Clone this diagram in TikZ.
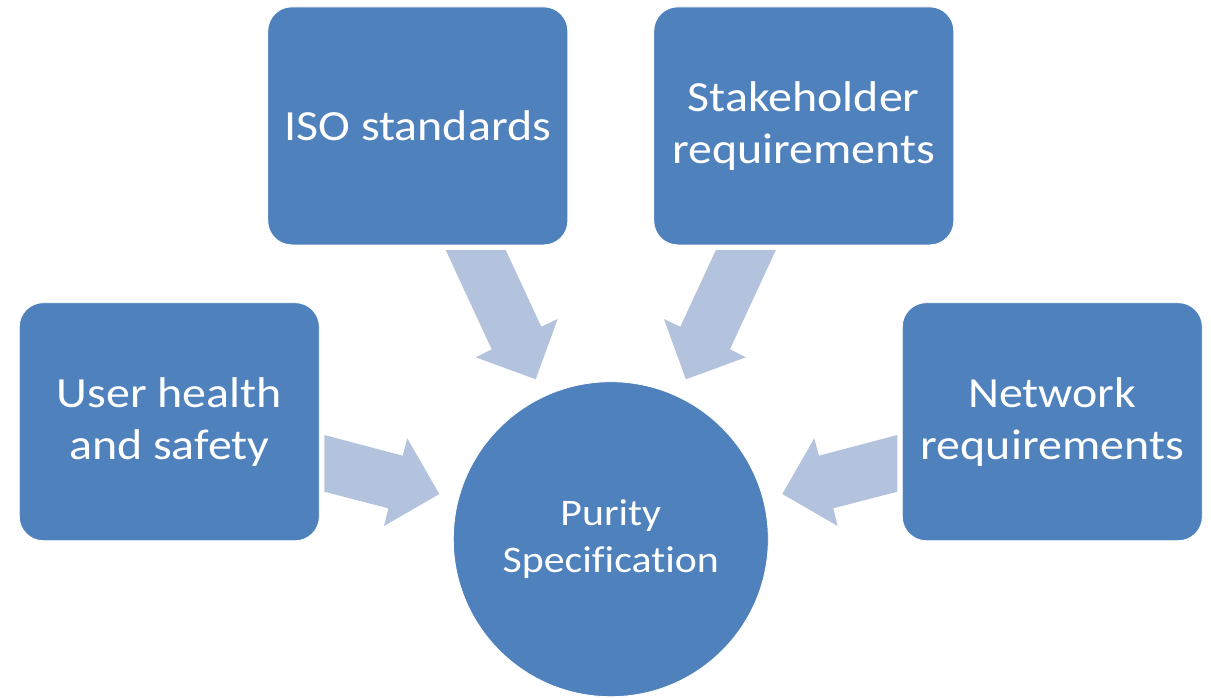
\documentclass[tikz,border=0pt]{standalone}
\usepackage{fontspec}
\setmainfont{Carlito}[FakeStretch=1.115, Ligatures=NoCommon]
\definecolor{boxblue}{HTML}{4F81BD}
\definecolor{arrowblue}{HTML}{B3C3DE}
\tikzset{
  boxnode/.style={rectangle, rounded corners=24pt, fill=boxblue, draw=white, line width=0.8pt,
    minimum width=300pt, minimum height=238pt, inner sep=0pt, text=white, align=center,
    font=\fontsize{43}{52}\selectfont},
  hubnode/.style={circle, fill=boxblue, draw=white, line width=0.8pt, minimum size=315pt,
    inner sep=0pt, text=white, align=center, font=\fontsize{37.5}{46.5}\selectfont},
  blockarrow/.style={fill=arrowblue, draw=none}
}
\begin{document}
\begin{tikzpicture}[x=1pt,y=-1pt]
\useasboundingbox (0,0) rectangle (1211,697);
% nodes
\node[boxnode] (user)  at (169.3,421.7) {User health\\and safety};
\node[boxnode] (iso)   at (417.8,125.9) {ISO standards};
\node[boxnode] (stake) at (803.8,125.9) {Stakeholder\\requirements};
\node[boxnode] (net)   at (1052.3,421.7) {Network\\requirements};
\node[hubnode] (hub)   at (610.8,539.2) {Purity\\Specification};
% block arrows
\fill[blockarrow] (324.3,435) -- (402.7,455.7) -- (407.3,438.3) -- (439.3,494)
  -- (384,526) -- (388.3,508.3) -- (324.3,491.7) -- cycle;
\fill[blockarrow] (445.7,250) -- (505.7,250) -- (541.3,326.7) -- (557.7,319)
  -- (535.7,379.3) -- (475.7,357.3) -- (491.7,349.3) -- cycle;
\fill[blockarrow] (775.9,250) -- (715.9,250) -- (680.3,326.7) -- (663.9,319)
  -- (685.9,379.3) -- (745.9,357.3) -- (729.9,349.3) -- cycle;
\fill[blockarrow] (897.3,435) -- (818.9,455.7) -- (814.3,438.3) -- (782.3,494)
  -- (837.6,526) -- (833.3,508.3) -- (897.3,491.7) -- cycle;
\end{tikzpicture}
\end{document}
